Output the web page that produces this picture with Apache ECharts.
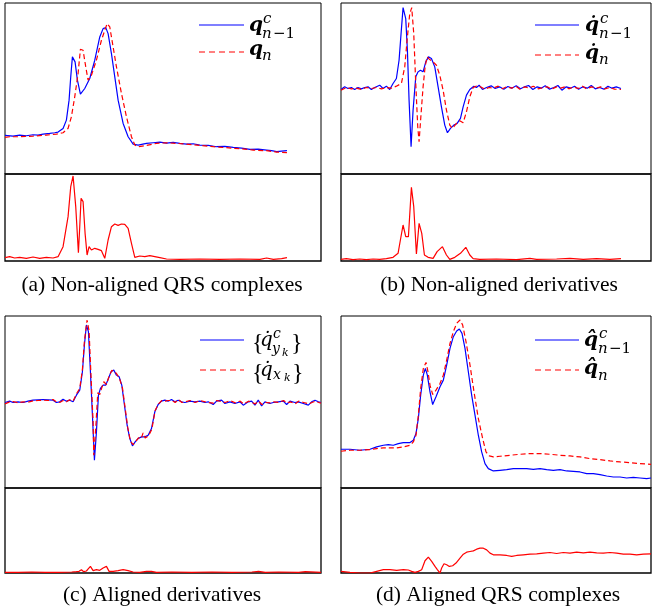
<!DOCTYPE html>
<html><head><meta charset="utf-8">
<script src="https://cdn.jsdelivr.net/npm/echarts@6/dist/echarts.min.js"></script>
<style>html,body{margin:0;padding:0;background:#fff}#c{width:652px;height:614px}</style>
</head><body><div id="c"></div>
<script>
// ---- data: [time sample, amplitude] (arbitrary units) ----
const aTopBlue = [[0,116],[24,114],[44,117],[64,115],[84,118],[99,117],[114,120],[134,122],[149,124],[159,126],[174,137],[184,162],[192,222],[197,292],[202,352],[210,337],[217,282],[226,240],[239,257],[254,287],[269,342],[284,412],[294,437],[302,440],[309,422],[319,362],[329,292],[339,222],[354,152],[369,112],[384,90],[399,87],[424,92],[444,94],[464,96],[484,93],[504,95],[524,92],[544,90],[564,91],[584,87],[609,86],[634,82],[659,83],[684,80],[709,78],[734,74],[759,75],[784,72],[799,70],[814,67],[829,69],[845,70]];
const aTopRed = [[0,110],[14,112],[44,112],[84,114],[124,117],[154,120],[174,124],[189,137],[199,172],[209,232],[219,302],[226,375],[234,372],[242,322],[249,282],[259,297],[274,342],[289,402],[299,432],[306,452],[314,442],[324,382],[334,322],[349,242],[364,172],[379,112],[389,87],[399,82],[424,86],[454,92],[484,94],[514,92],[544,90],[584,86],[624,82],[664,79],[704,76],[744,72],[784,70],[814,66],[845,64]];
const aBot = [[0,10],[14,13],[29,9],[44,11],[64,8],[84,12],[104,8],[124,11],[144,9],[159,13],[174,43],[189,133],[197,223],[204,255],[212,163],[220,25],[224,103],[228,188],[234,178],[240,83],[246,18],[252,43],[259,33],[269,38],[279,35],[289,31],[299,8],[309,63],[319,103],[329,111],[339,107],[349,111],[359,110],[369,98],[379,53],[389,11],[404,15],[419,13],[434,16],[449,13],[464,10],[484,6],[524,5],[584,6],[644,5],[704,6],[764,5],[784,9],[804,5],[829,7],[845,10]];

const bTopBlue = [[0,254],[11,262],[21,257],[31,260],[41,254],[51,260],[61,256],[71,260],[81,262],[91,254],[101,260],[116,267],[126,257],[136,264],[146,254],[156,272],[166,287],[174,342],[180,422],[186,500],[194,467],[199,372],[204,222],[210,82],[216,192],[224,292],[231,307],[238,312],[246,307],[254,337],[262,352],[271,347],[281,322],[291,262],[301,202],[311,147],[319,124],[328,137],[338,147],[348,152],[358,167],[366,202],[376,237],[386,254],[398,264],[406,260],[414,267],[424,254],[436,260],[450,265],[462,257],[475,262],[488,255],[500,263],[512,258],[525,265],[538,256],[550,262],[562,266],[575,254],[588,262],[600,258],[612,265],[625,255],[638,260],[650,266],[662,252],[675,262],[688,258],[700,264],[712,255],[725,262],[738,258],[750,266],[762,256],[775,260],[788,255],[800,264],[812,258],[825,262],[839,257]];
const bTopRed = [[0,252],[16,260],[31,256],[46,258],[61,254],[76,260],[91,257],[106,260],[121,256],[136,260],[151,258],[166,264],[181,272],[191,322],[198,402],[206,482],[212,500],[218,422],[224,272],[230,142],[234,97],[240,182],[246,262],[252,322],[258,352],[266,344],[276,337],[286,327],[296,297],[306,252],[316,192],[326,147],[334,137],[346,152],[356,160],[366,154],[376,187],[386,232],[396,260],[406,264],[418,262],[431,255],[444,260],[456,258],[471,264],[484,256],[496,262],[511,258],[524,264],[536,255],[551,262],[564,258],[576,264],[591,256],[606,260],[618,262],[631,255],[646,262],[658,258],[671,262],[684,256],[696,262],[711,257],[724,264],[736,256],[751,262],[764,258],[778,262],[791,256],[805,260],[820,255],[839,254]];
const bBot = [[0,5],[16,7],[36,4],[56,6],[76,4],[96,6],[116,5],[136,7],[156,11],[171,23],[178,63],[186,108],[194,73],[202,73],[211,221],[218,163],[226,21],[234,113],[242,83],[250,18],[261,11],[276,8],[288,28],[304,43],[316,18],[326,5],[341,11],[358,23],[374,41],[386,18],[396,7],[416,5],[466,6],[526,4],[566,8],[586,5],[646,6],[686,8],[726,5],[766,7],[806,5],[839,7]];

const cTopBlue = [[0,256],[14,260],[24,256],[39,258],[54,256],[69,260],[84,263],[99,264],[114,265],[129,264],[144,263],[154,256],[164,258],[174,266],[184,260],[194,263],[204,258],[214,278],[224,293],[232,348],[238,428],[244,488],[250,468],[256,348],[262,218],[268,83],[274,168],[280,278],[286,298],[294,308],[302,308],[310,328],[318,348],[326,353],[334,338],[342,333],[350,308],[358,248],[366,188],[374,148],[382,126],[390,138],[399,148],[409,153],[419,153],[429,158],[439,178],[449,228],[459,250],[469,260],[479,263],[489,260],[499,265],[509,258],[519,263],[529,258],[539,256],[554,260],[569,258],[584,260],[599,256],[609,258],[624,250],[634,260],[649,263],[659,253],[674,258],[689,253],[704,258],[714,248],[729,258],[739,260],[749,248],[759,263],[769,246],[779,258],[794,253],[804,256],[819,258],[834,260],[844,250],[854,260],[869,256],[879,258],[894,253],[909,248],[919,258],[929,263],[939,258],[947,256]];
const cTopRed = [[0,252],[14,258],[24,259],[39,255],[54,258],[69,257],[84,261],[99,262],[114,263],[129,262],[144,265],[154,258],[164,256],[174,262],[184,258],[194,264],[204,260],[214,282],[224,298],[232,355],[238,440],[246,503],[252,470],[258,330],[264,200],[266,98],[272,180],[278,285],[284,280],[290,300],[296,318],[304,310],[312,335],[320,352],[328,350],[336,340],[344,325],[352,300],[360,240],[368,180],[376,140],[384,130],[392,140],[400,150],[408,148],[414,165],[420,150],[430,156],[440,176],[450,232],[460,252],[470,262],[480,260],[490,262],[500,262],[510,256],[520,265],[530,256],[540,258],[555,262],[570,256],[585,262],[600,258],[610,256],[625,254],[635,262],[650,258],[660,256],[675,262],[690,255],[705,260],[715,252],[730,260],[740,256],[750,252],[760,260],[770,250],[780,256],[795,255],[805,258],[820,256],[835,262],[845,254],[855,258],[870,252],[880,260],[895,256],[910,252],[920,256],[930,260],[940,256],[947,254]];
const cBot = [[0,2],[40,2],[80,3],[120,2],[160,2],[200,3],[204,5],[214,4],[222,5],[229,10],[236,4],[244,6],[250,13],[256,20],[264,7],[274,10],[284,8],[294,15],[304,20],[312,5],[324,5],[339,7],[354,10],[369,7],[384,3],[404,2],[424,5],[439,5],[454,2],[500,3],[560,2],[620,3],[680,2],[740,3],[760,5],[780,2],[820,3],[880,2],[900,4],[947,2]];

const dTopBlue = [[0,116],[27,116],[57,113],[87,116],[107,123],[127,128],[142,130],[157,128],[172,133],[187,136],[207,136],[217,143],[225,163],[232,208],[239,278],[247,338],[253,358],[259,338],[267,288],[275,250],[285,273],[297,303],[307,323],[317,368],[327,418],[337,453],[347,470],[355,476],[363,463],[372,418],[382,348],[392,278],[402,218],[412,158],[422,108],[432,73],[442,58],[457,51],[477,53],[497,55],[517,58],[537,58],[557,58],[577,56],[597,58],[617,55],[637,53],[657,55],[677,51],[697,50],[717,48],[737,43],[757,43],[777,40],[797,36],[817,33],[837,33],[857,30],[877,32],[897,30],[917,28],[930,30]];
const dTopRed = [[0,110],[27,113],[57,113],[87,115],[107,118],[127,120],[147,120],[167,120],[187,123],[207,128],[217,138],[225,158],[232,218],[239,298],[247,358],[255,376],[261,348],[267,308],[275,280],[285,293],[297,313],[307,338],[317,383],[327,433],[337,468],[347,493],[357,503],[365,488],[375,438],[387,368],[399,288],[412,208],[425,148],[435,108],[445,96],[457,93],[477,95],[507,98],[537,101],[567,103],[597,103],[627,101],[657,98],[687,96],[717,93],[747,88],[777,85],[807,81],[837,78],[867,76],[897,73],[930,71]];
const dBot = [[0,5],[27,2],[57,0],[87,0],[107,5],[127,10],[147,10],[167,8],[187,10],[202,9],[212,5],[222,2],[232,5],[242,10],[252,37],[262,48],[272,35],[282,20],[289,10],[297,0],[302,15],[309,28],[317,25],[325,20],[335,22],[345,30],[357,45],[367,57],[377,63],[387,65],[397,67],[407,72],[417,75],[427,75],[437,70],[447,60],[457,55],[477,55],[497,53],[512,50],[527,53],[547,55],[567,57],[587,58],[607,60],[627,62],[647,59],[667,62],[687,60],[707,63],[727,61],[747,63],[767,61],[787,60],[807,62],[827,60],[847,57],[867,57],[887,55],[907,57],[930,58]];

const captions = ['(a) Non-aligned QRS complexes','(b) Non-aligned derivatives','(c) Aligned derivatives','(d) Aligned QRS complexes'];

// ---- layout ----
const panels = [
  {left:5,   width:316, top:3,   topH:171, botH:87, xMax:947, yTop:514, yBot:261, blue:aTopBlue, red:aTopRed, bot:aBot, capX:162, capY:285},
  {left:341, width:310, top:3,   topH:171, botH:87, xMax:929, yTop:514, yBot:261, blue:bTopBlue, red:bTopRed, bot:bBot, capX:499, capY:285},
  {left:5,   width:316, top:316, topH:172, botH:85, xMax:947, yTop:515, yBot:257, blue:cTopBlue, red:cTopRed, bot:cBot, capX:162, capY:595},
  {left:341, width:310, top:316, topH:172, botH:85, xMax:930, yTop:515, yBot:257, blue:dTopBlue, red:dTopRed, bot:dBot, capX:498, capY:595}
];

const grid=[], xAxis=[], yAxis=[], series=[], graphic=[];
panels.forEach((p,i)=>{
  const gi = grid.length;
  grid.push({left:p.left, top:p.top, width:p.width, height:p.topH, show:true, borderColor:'#000', borderWidth:1, backgroundColor:'transparent'});
  grid.push({left:p.left, top:p.top+p.topH, width:p.width, height:p.botH, show:true, borderColor:'#000', borderWidth:1.3, backgroundColor:'transparent'});
  [0,1].forEach(k=>{
    xAxis.push({type:'value', gridIndex:gi+k, min:0, max:p.xMax, show:false});
    yAxis.push({type:'value', gridIndex:gi+k, min:0, max:k===0?p.yTop:p.yBot, show:false});
  });
  const ln = (data, idx, color, dashed)=>({type:'line', xAxisIndex:idx, yAxisIndex:idx, data, showSymbol:false, symbol:'none', silent:true, clip:true,
    lineStyle:{color, width:1.2, type: dashed?[5,3]:'solid'}});
  series.push(ln(p.blue, gi, '#0000ff', false));
  series.push(ln(p.red, gi, '#ff0000', true));
  series.push(ln(p.bot, gi+1, '#ff0000', false));
  graphic.push({type:'text', x:p.capX, y:p.capY, style:{text:captions[i], fill:'#000', fontSize:21.5, fontFamily:'Liberation Serif', fontWeight:'normal', align:'center', verticalAlign:'middle'}});
});

// ---- legends (drawn as lines + real text) ----
const M = '"DejaVu Serif"';
function T(x,y,s,size,style,fam){ graphic.push({type:'text', x, y, style:{text:s, fill:'#000', font:(style||'italic')+' '+size+'px '+(fam||M), align:'left', verticalAlign:'middle'}}); }
function L(x1,x2,y,color,dashed){ graphic.push({type:'line', shape:{x1,y1:y,x2,y2:y}, style:{stroke:color, lineWidth:1.2, lineDash:dashed?[6,4]:null}}); }

// (a)
L(199,244,25,'#0000ff',false); L(199,244,52,'#ff0000',true);
T(249,26,'q',20,'italic bold'); T(263,19,'c',15); T(262,34,'n',15); T(273,34,'\u22121',15,'normal');
T(249,50,'q',20,'italic bold'); T(262,56,'n',15);
// (b)
L(535,579,25,'#0000ff',false); L(535,579,55,'#ff0000',true);
T(585,26,'q\u0307',20,'italic bold'); T(600,19,'c',15); T(599,34,'n',15); T(610,34,'\u22121',15,'normal');
T(585,54,'q\u0307',20,'italic bold'); T(599,60,'n',15);
// (c)
L(200,244,340,'#0000ff',false); L(200,244,370,'#ff0000',true);
T(252,344,'{',24,'normal','"Liberation Serif"'); T(260,341,'q\u0307',20,'italic'); T(273,334,'c',14); T(272,349,'y',14); T(282,353,'k',11); T(291,344,'}',24,'normal','"Liberation Serif"');
T(252,374,'{',24,'normal','"Liberation Serif"'); T(260,371,'q\u0307',20,'italic'); T(273,375,'x',14); T(284,378,'k',11); T(292,374,'}',24,'normal','"Liberation Serif"');
// (d)
L(535,579,340,'#0000ff',false); L(535,579,370,'#ff0000',true);
T(584,341,'q\u0302',20,'italic bold'); T(599,334,'c',15); T(598,349,'n',15); T(609,349,'\u22121',15,'normal');
T(584,369,'q\u0302',20,'italic bold'); T(598,376,'n',15);

const chart = echarts.init(document.getElementById('c'), null, {renderer:'canvas'});
chart.setOption({animation:false, backgroundColor:'#fff', grid, xAxis, yAxis, series, graphic});
</script></body></html>
